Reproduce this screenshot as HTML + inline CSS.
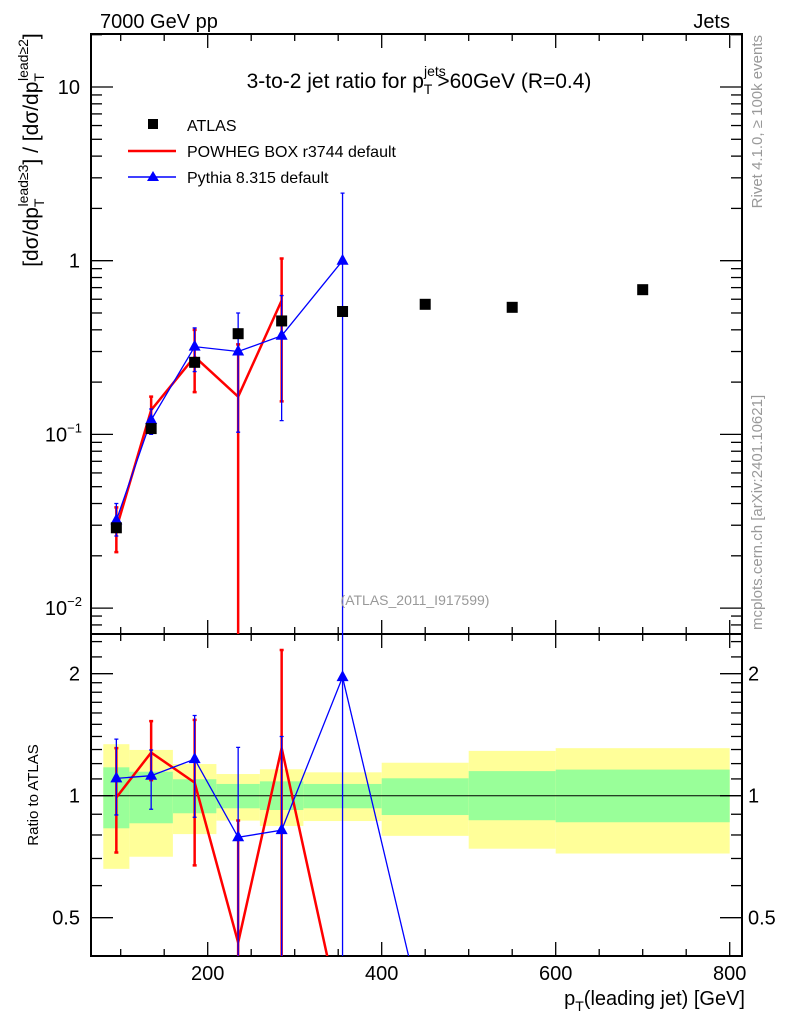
<!DOCTYPE html>
<html><head><meta charset="utf-8"><style>
html,body{margin:0;background:#fff;width:786px;height:1024px;overflow:hidden}
svg{display:block;font-family:"Liberation Sans",sans-serif}
</style></head><body>
<svg id="chart" width="786" height="1024" viewBox="0 0 786 1024" xmlns="http://www.w3.org/2000/svg">
<g id="bands"></g>
<g id="axes"></g>
<g id="series"></g>
<text x="100" y="28" font-size="20">7000 GeV pp</text>
<text x="730" y="28" font-size="20" text-anchor="end">Jets</text>
<text x="419" y="88" font-size="21" text-anchor="middle">3-to-2 jet ratio for p<tspan font-size="14" dy="-12">jets</tspan><tspan font-size="14" dx="-22" dy="18">T</tspan><tspan dy="-6" dx="5">&gt;60GeV (R=0.4)</tspan></text>
<text x="415" y="605" font-size="14" fill="#999" text-anchor="middle">(ATLAS_2011_I917599)</text>
<text transform="translate(38,150) rotate(-90)" font-size="21" text-anchor="middle">[dσ/dp<tspan font-size="14" dy="6">T</tspan><tspan font-size="14" dy="-16" dx="-8">lead≥3</tspan><tspan dy="10">] / [dσ/dp</tspan><tspan font-size="14" dy="6">T</tspan><tspan font-size="14" dy="-16" dx="-8">lead≥2</tspan><tspan dy="10">]</tspan></text>
<text transform="translate(38,795) rotate(-90)" font-size="15" text-anchor="middle">Ratio to ATLAS</text>
<text x="745" y="1005" font-size="20" text-anchor="end">p<tspan font-size="14" dy="6">T</tspan><tspan dy="-6">(leading jet) [GeV]</tspan></text>
<text transform="translate(762,35) rotate(-90)" font-size="15" fill="#999" text-anchor="end">Rivet 4.1.0, ≥ 100k events</text>
<text transform="translate(762,630) rotate(-90)" font-size="15" fill="#999">mcplots.cern.ch [arXiv:2401.10621]</text>
<g>
<rect x="148" y="119" width="10" height="10" fill="#000"/>
<text x="187" y="131" font-size="16">ATLAS</text>
<line x1="128" y1="151" x2="176" y2="151" stroke="#f00" stroke-width="2.5"/>
<text x="187" y="157" font-size="16">POWHEG BOX r3744 default</text>
<line x1="128" y1="177" x2="176" y2="177" stroke="#00f" stroke-width="1.5"/>
<polygon points="153,171 159,181 147,181" fill="#00f"/>
<text x="187" y="183" font-size="16">Pythia 8.315 default</text>
</g>
</svg>
<script>
const xs = [95, 135, 185, 235, 285, 355, 450, 550, 700];
const binEdges = [80, 110, 160, 210, 260, 310, 400, 500, 600, 800];
const atlas = [0.029, 0.108, 0.26, 0.38, 0.45, 0.51, 0.561, 0.539, 0.681];
const bandYellowHi = [1.34, 1.297, 1.197, 1.131, 1.162, 1.142, 1.206, 1.29, 1.31];
const bandYellowLo = [0.66, 0.707, 0.804, 0.868, 0.842, 0.866, 0.796, 0.74, 0.72];
const bandGreenHi = [1.175, 1.146, 1.098, 1.069, 1.085, 1.069, 1.104, 1.15, 1.16];
const bandGreenLo = [0.831, 0.855, 0.905, 0.931, 0.922, 0.931, 0.896, 0.87, 0.86];
const powheg = [0.0287, 0.138, 0.28, 0.165, 0.59, 0, 0, 0, 0];
const powhegLo = [0.021, 0.118, 0.175, 0, 0.155];
const powhegHi = [0.038, 0.165, 0.40, 0.33, 1.03];
const pythia = [0.032, 0.121, 0.32, 0.30, 0.37, 1.0, 0, 0, 0];
const pythiaLo = [0.026, 0.10, 0.23, 0.103, 0.12, 0];
const pythiaHi = [0.040, 0.14, 0.41, 0.50, 0.63, 2.45];

const NS = 'http://www.w3.org/2000/svg';
const L = 91, R = 742, T = 34, MB = 634, RB = 956;
const X = v => 33.7 + 0.87 * v;
const Ym = v => 260.7 - 173.7 * Math.log10(v);
const Yr = v => 795.7 - 405.3 * Math.log10(Math.max(v, 0.27));
function mk(parent, tag, attrs) {
  const e = document.createElementNS(NS, tag);
  for (const k in attrs) e.setAttribute(k, attrs[k]);
  document.getElementById(parent).appendChild(e);
  return e;
}
for (let i = 0; i < atlas.length; i++) {
  const x1 = X(binEdges[i]), x2 = X(binEdges[i + 1]);
  let e = mk('bands', 'rect', {x: x1, y: Yr(bandYellowHi[i]), width: x2 - x1, height: Yr(bandYellowLo[i]) - Yr(bandYellowHi[i]), fill: '#ffff99'});
  
  
  e = mk('bands', 'rect', {x: x1, y: Yr(bandGreenHi[i]), width: x2 - x1, height: Yr(bandGreenLo[i]) - Yr(bandGreenHi[i]), fill: '#99ff99'});
  
  
}
let ln = mk('axes', 'line', {x1: L, x2: R, y1: Yr(1), y2: Yr(1), stroke: '#000', 'stroke-width': 1});


for (const [y1, y2, nm] of [[T, MB, 'main-frame'], [MB, RB, 'ratio-frame']]) {
  const f = mk('axes', 'rect', {x: L, y: y1, width: R - L, height: y2 - y1, fill: 'none', stroke: '#000', 'stroke-width': 2});
  
  
}
function tick(x1, y1, x2, y2) { mk('axes', 'line', {x1, y1, x2, y2, stroke: '#000', 'stroke-width': 1.3}); }
function label(x, y, txt, anchor, size) {
  const t = mk('axes', 'text', {x, y, 'font-size': size || 20, 'text-anchor': anchor});
  t.innerHTML = txt;
  
  
}
for (let v = 100; v <= 800; v += 50) {
  const x = X(v), big = v % 200 === 0;
  const h = big ? 14 : 7;
  tick(x, MB, x, MB - h); tick(x, MB, x, MB + h); tick(x, RB, x, RB - h); tick(x, T, x, T + h);
  if (big) label(x, 980, v, 'middle');
}
const mainMajor = [0.01, 0.1, 1, 10];
const mainLabels = ['10<tspan font-size="13" dy="-9">−2</tspan>', '10<tspan font-size="13" dy="-9">−1</tspan>', '1', '10'];
for (let d = -3; d <= 1; d++) for (let m = 1; m <= 9; m++) {
  const v = m * Math.pow(10, d), y = Ym(v);
  if (y < T || y > MB) continue;
  const h = m === 1 ? 22 : 11;
  tick(L, y, L + h, y); tick(R, y, R - h, y);
}
mainMajor.forEach((v, i) => label(i < 2 ? 82 : 80, Ym(v) + 7, mainLabels[i], 'end'));
for (let k = 3; k <= 25; k++) {
  const v = k / 10, y = Yr(v);
  if (y < MB || y > RB || v > 2 && k % 2) continue;
  const big = v === 0.5 || v === 1 || v === 2;
  const h = big ? 22 : 11;
  tick(L, y, L + h, y); tick(R, y, R - h, y);
}
[0.5, 1, 2].forEach(v => { label(80, Yr(v) + 7, v, 'end'); label(748, Yr(v) + 7, v, 'start'); });

const defs = mk('series', 'defs', {});
defs.innerHTML = `<clipPath id="cm"><rect x="${L}" y="${T}" width="${R-L}" height="${MB-T}"/></clipPath><clipPath id="cr"><rect x="${L}" y="${MB}" width="${R-L}" height="${RB-MB}"/></clipPath>`;
function seriesGroup(name, clip) {
  const g = mk('series', 'g', {'clip-path': `url(#${clip})`});
  
  
  g.id = name;
  return name;
}
function errbar(gid, x, y1, y2, col, w) {
  const e = document.createElementNS(NS, 'path');
  e.setAttribute('d', `M${x},${y1}V${y2}M${x-2},${y1}h4M${x-2},${y2}h4`);
  e.setAttribute('stroke', col); e.setAttribute('stroke-width', w); e.setAttribute('fill', 'none');
  
  
  document.getElementById(gid).appendChild(e);
}
function poly(gid, pts, col, w) {
  const e = document.createElementNS(NS, 'polyline');
  e.setAttribute('points', pts.map(p => p.join(',')).join(' '));
  e.setAttribute('stroke', col); e.setAttribute('stroke-width', w); e.setAttribute('fill', 'none');
  
  
  document.getElementById(gid).appendChild(e);
}
function tri(gid, x, y) {
  const e = document.createElementNS(NS, 'polygon');
  e.setAttribute('points', `${x},${y-7} ${x+6},${y+4} ${x-6},${y+4}`);
  e.setAttribute('fill', '#00f');
  
  
  document.getElementById(gid).appendChild(e);
}
const safeM = v => v > 0 ? Ym(v) : 1000;
const gmP = seriesGroup('powheg-main', 'cm');
powhegLo.forEach((lo, i) => errbar(gmP, X(xs[i]), safeM(lo), Ym(powhegHi[i]), '#f00', 2.5));
poly(gmP, powheg.slice(0, 5).map((v, i) => [X(xs[i]), Ym(v)]), '#f00', 2.5);
const gmY = seriesGroup('pythia-main', 'cm');
pythiaLo.forEach((lo, i) => errbar(gmY, X(xs[i]), safeM(lo), Ym(pythiaHi[i]), '#00f', 1.3));
poly(gmY, pythia.slice(0, 6).map((v, i) => [X(xs[i]), Ym(v)]), '#00f', 1.3);
pythia.slice(0, 6).forEach((v, i) => tri(gmY, X(xs[i]), Ym(v)));
const gmA = seriesGroup('atlas-main', 'cm');
atlas.forEach((v, i) => {
  const e = document.createElementNS(NS, 'rect');
  e.setAttribute('x', X(xs[i]) - 5.5); e.setAttribute('y', Ym(v) - 5.5);
  e.setAttribute('width', 11); e.setAttribute('height', 11); e.setAttribute('fill', '#000');
  
  
  document.getElementById(gmA).appendChild(e);
});
const grP = seriesGroup('powheg-ratio', 'cr');
powhegLo.forEach((lo, i) => errbar(grP, X(xs[i]), lo > 0 ? Yr(lo / atlas[i]) : 1000, Yr(powhegHi[i] / atlas[i]), '#f00', 2.5));
poly(grP, powheg.slice(0, 6).map((v, i) => [X(xs[i]), Yr(v / atlas[i])]), '#f00', 2.5);
const grY = seriesGroup('pythia-ratio', 'cr');
pythiaLo.forEach((lo, i) => errbar(grY, X(xs[i]), lo > 0 ? Yr(lo / atlas[i]) : 1000, Yr(pythiaHi[i] / atlas[i]), '#00f', 1.3));
poly(grY, pythia.slice(0, 7).map((v, i) => [X(xs[i]), Yr(v / atlas[i])]), '#00f', 1.3);
pythia.slice(0, 6).forEach((v, i) => tri(grY, X(xs[i]), Yr(v / atlas[i])));
</script>
</body></html>
